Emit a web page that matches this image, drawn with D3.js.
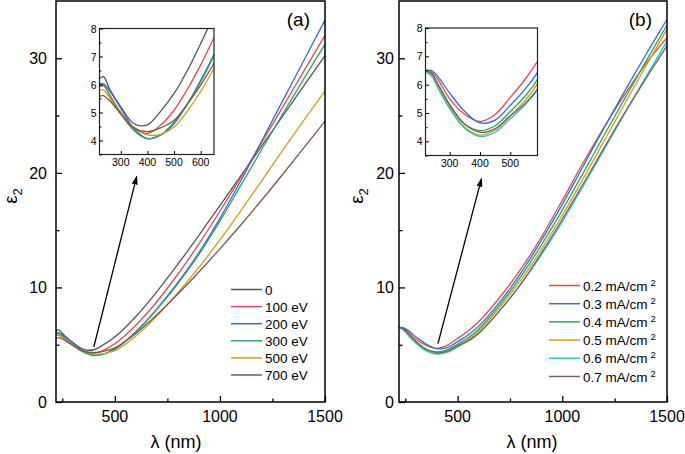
<!DOCTYPE html>
<html>
<head>
<meta charset="utf-8">
<script src="https://cdn.jsdelivr.net/npm/d3@7"></script>
<style>
  body { margin: 0; background: #fff; }
  svg { font-family: "Liberation Sans", Arial, sans-serif; }
</style>
</head>
<body>
<svg id="fig" width="685" height="454"></svg>
<script>
// wavelengths (nm)
var lambdaA = [220, 235, 260, 300, 350, 400, 450, 500, 550, 600, 650, 700, 800, 900, 1000, 1100, 1200, 1300, 1400, 1500];
var lambdaB = [220, 240, 260, 300, 350, 400, 450, 500, 550, 600, 700, 800, 900, 1000, 1100, 1200, 1300, 1400, 1500];

// panel (a): ion energy
var labelsA = ["0", "100 eV", "200 eV", "300 eV", "500 eV", "700 eV"];
var a0   = [6.22, 6.28, 5.8, 5.2, 4.6, 4.56, 5.05, 5.68, 6.5, 7.46, 8.5, 9.63, 12.03, 14.55, 17.15, 19.75, 22.37, 24.99, 27.61, 30.23];
var a100 = [5.92, 5.95, 5.6, 5.0, 4.45, 4.25, 4.55, 5.08, 5.83, 6.7, 7.68, 8.75, 11.15, 13.8, 16.65, 19.63, 22.68, 25.78, 28.9, 32.0];
var a200 = [5.98, 6.02, 5.75, 5.15, 4.42, 4.07, 4.2, 4.6, 5.3, 6.15, 7.08, 8.13, 10.43, 13.03, 16.03, 19.33, 22.83, 26.33, 29.83, 33.33];
var a300 = [6.04, 6.02, 5.55, 4.95, 4.35, 4.06, 4.2, 4.66, 5.3, 6.1, 7.03, 8.08, 10.33, 12.88, 15.78, 18.93, 22.08, 25.18, 28.23, 31.23];
var a500 = [5.8, 5.8, 5.5, 4.95, 4.45, 4.2, 4.22, 4.48, 5.05, 5.75, 6.58, 7.5, 9.55, 11.75, 14.15, 16.7, 19.35, 22.0, 24.6, 27.15];
var a700 = [5.58, 5.6, 5.4, 4.95, 4.45, 4.32, 4.45, 4.72, 5.3, 5.98, 6.76, 7.61, 9.43, 11.35, 13.37, 15.47, 17.65, 19.9, 22.2, 24.52];

// panel (b): current density
var labelsB = ["0.2 mA/cm", "0.3 mA/cm", "0.4 mA/cm", "0.5 mA/cm", "0.6 mA/cm", "0.7 mA/cm"];
var b02 = [6.52, 6.45, 6.2, 5.5, 4.95, 4.7, 4.95, 5.55, 6.2, 7.0, 9.1, 11.55, 14.4, 17.6, 20.9, 24.0, 26.9, 29.55, 31.8];
var b03 = [6.5, 6.5, 6.3, 5.7, 5.05, 4.65, 4.75, 5.27, 5.85, 6.6, 8.7, 11.2, 14.1, 17.25, 20.6, 23.95, 27.2, 30.35, 33.4];
var b04 = [6.5, 6.35, 6.0, 5.25, 4.6, 4.38, 4.55, 5.05, 5.6, 6.35, 8.45, 10.9, 13.7, 16.75, 20.0, 23.3, 26.55, 29.75, 32.9];
var b05 = [6.5, 6.35, 5.95, 5.2, 4.5, 4.22, 4.4, 4.9, 5.45, 6.2, 8.25, 10.6, 13.3, 16.3, 19.5, 22.8, 26.1, 29.35, 32.55];
var b06 = [6.45, 6.3, 5.9, 5.15, 4.45, 4.17, 4.32, 4.8, 5.3, 5.95, 7.95, 10.25, 12.85, 15.75, 18.85, 22.05, 25.25, 28.4, 31.5];
var b07 = [6.52, 6.4, 6.05, 5.3, 4.6, 4.32, 4.45, 4.9, 5.35, 6.0, 7.95, 10.25, 13.0, 15.95, 19.05, 22.2, 25.3, 28.25, 31.1];

// ticks
var mainYTicks = [0, 10, 20, 30];
var mainXTicks = [500, 1000, 1500];
var insetYTicks = [4, 5, 6, 7, 8];
var insetXTicksA = [300, 400, 500, 600];
var insetXTicksB = [300, 400, 500];

var colorsA = ["#555555", "#e8484d", "#2f6fd8", "#2da468", "#d0a010", "#7d5555"];
var colorsB = ["#e8484d", "#2f6fd8", "#2da468", "#d0a010", "#20c8c8", "#7a6262"];

var svg = d3.select("#fig");
var defs = svg.append("defs");
defs.append("marker")
    .attr("id", "arrowhead")
    .attr("viewBox", "0 0 10 10")
    .attr("refX", 9).attr("refY", 5)
    .attr("markerWidth", 9).attr("markerHeight", 6)
    .attr("markerUnits", "userSpaceOnUse")
    .attr("preserveAspectRatio", "none")
    .attr("orient", "auto")
  .append("path")
    .attr("d", "M0,0 L10,5 L0,10 z")
    .attr("fill", "#000");

function drawPanel(cfg) {
  var g = svg.append("g");
  var x = d3.scaleLinear().domain([220, 1500]).range([cfg.left, cfg.right]);
  var y = d3.scaleLinear().domain([0, 35]).range([402, 1]);

  defs.append("clipPath").attr("id", "clip" + cfg.id)
    .append("rect").attr("x", cfg.left).attr("y", 1)
    .attr("width", cfg.right - cfg.left).attr("height", 401);

  var line = d3.line()
      .x(function(d) { return x(d[0]); })
      .y(function(d) { return y(d[1]); })
      .curve(d3.curveCatmullRom.alpha(0.5));

  var plot = g.append("g").attr("clip-path", "url(#clip" + cfg.id + ")");
  cfg.series.forEach(function(s, i) {
    plot.append("path")
      .datum(cfg.lambda.map(function(l, j) { return [l, s[j]]; }))
      .attr("d", line)
      .attr("fill", "none")
      .attr("stroke", cfg.colors[i])
      .attr("stroke-width", 1.3);
  });

  // frame
  g.append("rect").attr("x", cfg.left).attr("y", 1)
    .attr("width", cfg.right - cfg.left).attr("height", 401)
    .attr("fill", "none").attr("stroke", "#000").attr("stroke-width", 1.5);

  // y axis (inward ticks)
  g.append("g").attr("transform", "translate(" + cfg.left + ",0)")
    .call(d3.axisRight(y).tickValues([5, 15, 25]).tickSize(3.5).tickFormat(""))
    .call(function(a) { a.select(".domain").remove(); a.selectAll("line").attr("stroke-width", 1.3); });
  g.append("g").attr("transform", "translate(" + cfg.left + ",0)")
    .call(d3.axisRight(y).tickValues(mainYTicks).tickSize(6).tickFormat(""))
    .call(function(a) { a.select(".domain").remove(); a.selectAll("line").attr("stroke-width", 1.3); });
  mainYTicks.forEach(function(t) {
    g.append("text").attr("x", cfg.ylabX).attr("y", y(t) + 6)
      .attr("text-anchor", "end").attr("font-size", 16).text(t);
  });

  // x axis (inward ticks)
  g.append("g").attr("transform", "translate(0,402)")
    .call(d3.axisTop(x).tickValues([250, 750, 1250]).tickSize(3.5).tickFormat(""))
    .call(function(a) { a.select(".domain").remove(); a.selectAll("line").attr("stroke-width", 1.3); });
  g.append("g").attr("transform", "translate(0,402)")
    .call(d3.axisTop(x).tickValues(mainXTicks).tickSize(6).tickFormat(""))
    .call(function(a) { a.select(".domain").remove(); a.selectAll("line").attr("stroke-width", 1.3); });
  mainXTicks.forEach(function(t) {
    g.append("text").attr("x", x(t)).attr("y", 422)
      .attr("text-anchor", "middle").attr("font-size", 16).text(t);
  });

  // axis titles
  g.append("text").attr("x", cfg.xTitleX).attr("y", 448)
    .attr("text-anchor", "middle").attr("font-size", 18).text("λ (nm)");
  var yt = g.append("text")
    .attr("transform", "translate(" + cfg.yTitleX + ",196) rotate(-90)")
    .attr("text-anchor", "middle").attr("font-size", 19);
  yt.append("tspan").text("ε");
  yt.append("tspan").attr("font-size", 13).attr("dy", 5).text("2");

  // panel letter
  g.append("text").attr("x", cfg.right - 15).attr("y", 26)
    .attr("text-anchor", "end").attr("font-size", 19).text(cfg.letter);

  // arrow
  g.append("line")
    .attr("x1", x(cfg.arrow[0])).attr("y1", y(cfg.arrow[1]))
    .attr("x2", x(cfg.arrow[2])).attr("y2", y(cfg.arrow[3]))
    .attr("stroke", "#000").attr("stroke-width", 1.3)
    .attr("marker-end", "url(#arrowhead)");

  // legend
  var lg = g.append("g");
  cfg.labels.forEach(function(lab, i) {
    var yy = cfg.legY + i * cfg.legStep;
    lg.append("line").attr("x1", cfg.legX).attr("x2", cfg.legX + 31)
      .attr("y1", yy).attr("y2", yy)
      .attr("stroke", cfg.colors[i]).attr("stroke-width", 1.5);
    var t = lg.append("text").attr("x", cfg.legX + 34).attr("y", yy + 5)
      .attr("font-size", 13.5).text(lab);
    if (cfg.sup) {
      t.append("tspan").attr("font-size", 9.5).attr("dx", 3).attr("dy", -5).text("2");
    }
  });

  // inset
  var ix = d3.scaleLinear().domain(cfg.inDomain).range([cfg.inL, cfg.inR]);
  var iy = d3.scaleLinear().domain([3.5, 8]).range([cfg.inB, cfg.inT]);
  g.append("rect").attr("x", cfg.inL).attr("y", cfg.inT)
    .attr("width", cfg.inR - cfg.inL).attr("height", cfg.inB - cfg.inT)
    .attr("fill", "#fff");
  defs.append("clipPath").attr("id", "iclip" + cfg.id)
    .append("rect").attr("x", cfg.inL).attr("y", cfg.inT)
    .attr("width", cfg.inR - cfg.inL).attr("height", cfg.inB - cfg.inT);
  var iline = d3.line()
      .x(function(d) { return ix(d[0]); })
      .y(function(d) { return iy(d[1]); })
      .curve(d3.curveCatmullRom.alpha(0.5));
  var ip = g.append("g").attr("clip-path", "url(#iclip" + cfg.id + ")");
  cfg.series.forEach(function(s, i) {
    ip.append("path")
      .datum(cfg.lambda.map(function(l, j) { return [l, s[j]]; }).filter(function(d) { return d[0] <= 800; }))
      .attr("d", iline)
      .attr("fill", "none")
      .attr("stroke", cfg.colors[i])
      .attr("stroke-width", 1.3);
  });
  g.append("rect").attr("x", cfg.inL).attr("y", cfg.inT)
    .attr("width", cfg.inR - cfg.inL).attr("height", cfg.inB - cfg.inT)
    .attr("fill", "none").attr("stroke", "#222").attr("stroke-width", 1.2);
  g.append("g").attr("transform", "translate(" + cfg.inL + ",0)")
    .call(d3.axisRight(iy).tickValues([3.5, 4.5, 5.5, 6.5, 7.5]).tickSize(2).tickFormat(""))
    .call(function(a) { a.select(".domain").remove(); });
  g.append("g").attr("transform", "translate(" + cfg.inL + ",0)")
    .call(d3.axisRight(iy).tickValues(insetYTicks).tickSize(3.5).tickFormat(""))
    .call(function(a) { a.select(".domain").remove(); });
  insetYTicks.forEach(function(t) {
    g.append("text").attr("x", cfg.inL - 3).attr("y", iy(t) + 4)
      .attr("text-anchor", "end").attr("font-size", 10.5).text(t);
  });
  g.append("g").attr("transform", "translate(0," + cfg.inB + ")")
    .call(d3.axisTop(ix).tickValues(cfg.inXTicks).tickSize(3.5).tickFormat(""))
    .call(function(a) { a.select(".domain").remove(); });
  cfg.inXTicks.forEach(function(t) {
    g.append("text").attr("x", ix(t)).attr("y", cfg.inB + 11)
      .attr("text-anchor", "middle").attr("font-size", 10.5).text(t);
  });
}

drawPanel({
  id: "a", letter: "(a)", left: 56, right: 325, ylabX: 47, yTitleX: 17, xTitleX: 176,
  lambda: lambdaA, series: [a0, a100, a200, a300, a500, a700],
  colors: colorsA, labels: labelsA, sup: false,
  legX: 231, legY: 289.5, legStep: 17.1,
  arrow: [400, 4.8, 604, 19.7],
  inL: 99.5, inR: 214, inT: 28.5, inB: 154.5, inDomain: [220, 650], inXTicks: insetXTicksA
});

drawPanel({
  id: "b", letter: "(b)", left: 399, right: 667, ylabX: 394, yTitleX: 363, xTitleX: 532,
  lambda: lambdaB, series: [b02, b03, b04, b05, b06, b07],
  colors: colorsB, labels: labelsB, sup: true,
  legX: 549, legY: 285.5, legStep: 18.2,
  arrow: [406, 5.1, 614, 19.5],
  inL: 425.5, inR: 537.5, inT: 28, inB: 155.5, inDomain: [220, 590], inXTicks: insetXTicksB
});
</script>
</body>
</html>
